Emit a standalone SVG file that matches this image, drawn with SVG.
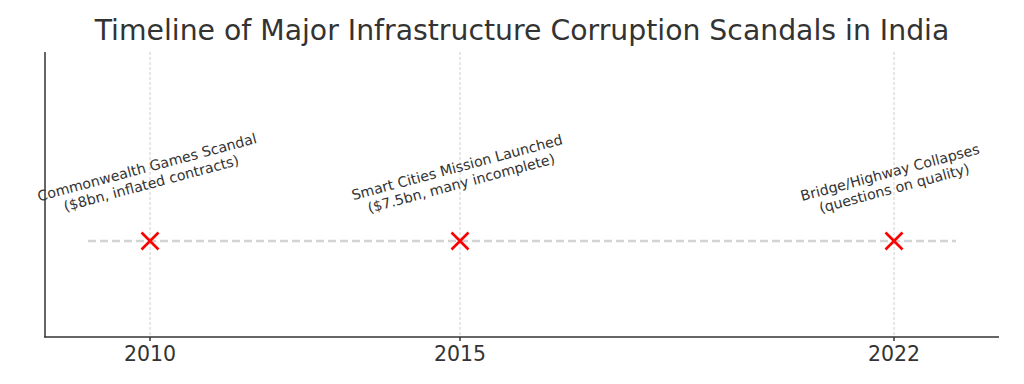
<svg xmlns="http://www.w3.org/2000/svg" width="1024" height="384" viewBox="0 0 1024 384">
<style>
.t{font-family:"DejaVu Sans",sans-serif;fill:#333333}
.grid{stroke:#c8c8c8;stroke-width:0.9;stroke-dasharray:3,2}
.ann{font-size:14.2px;text-anchor:middle}
.x{stroke:#ff0000;stroke-width:2.6;fill:none}
</style>
<rect width="1024" height="384" fill="#ffffff"/>
<g id="title"><text class="t" x="522" y="40" font-size="28.3" text-anchor="middle">Timeline of Major Infrastructure Corruption Scandals in India</text></g>
<g id="grid">
<line class="grid" x1="150" y1="52" x2="150" y2="337"/>
<line class="grid" x1="460" y1="52" x2="460" y2="337"/>
<line class="grid" x1="894" y1="52" x2="894" y2="337"/>
</g>
<g id="axes" stroke="#333333" stroke-width="1.5" fill="none">
<line x1="45" y1="52" x2="45" y2="337.5"/>
<line x1="44.3" y1="337" x2="999" y2="337"/>
<line x1="150" y1="337" x2="150" y2="341"/>
<line x1="460" y1="337" x2="460" y2="341"/>
<line x1="894" y1="337" x2="894" y2="341"/>
</g>
<g id="ticklabels" class="t" font-size="20.5" text-anchor="middle">
<text x="150" y="361">2010</text>
<text x="460" y="361">2015</text>
<text x="894" y="361">2022</text>
</g>
<g id="connectors"><line x1="88" y1="241" x2="956" y2="241" stroke="#d3d3d3" stroke-width="2.4" stroke-dasharray="8,4"/></g>
<g id="e2010">
<path class="x" d="M141.5,232.5 L158.5,249.5 M141.5,249.5 L158.5,232.5"/>
<text class="t ann" transform="translate(149,175) rotate(-15)"><tspan x="0" y="-3">Commonwealth Games Scandal</tspan><tspan x="0" y="13.5">($8bn, inflated contracts)</tspan></text>
</g>
<g id="e2015">
<path class="x" d="M451.5,232.5 L468.5,249.5 M451.5,249.5 L468.5,232.5"/>
<text class="t ann" transform="translate(459,175) rotate(-15)"><tspan x="0" y="-3">Smart Cities Mission Launched</tspan><tspan x="0" y="13.5">($7.5bn, many incomplete)</tspan></text>
</g>
<g id="e2022">
<path class="x" d="M885.5,232.5 L902.5,249.5 M885.5,249.5 L902.5,232.5"/>
<text class="t ann" transform="translate(892,180) rotate(-15)"><tspan x="0" y="-3">Bridge/Highway Collapses</tspan><tspan x="0" y="13.5">(questions on quality)</tspan></text>
</g>
</svg>
